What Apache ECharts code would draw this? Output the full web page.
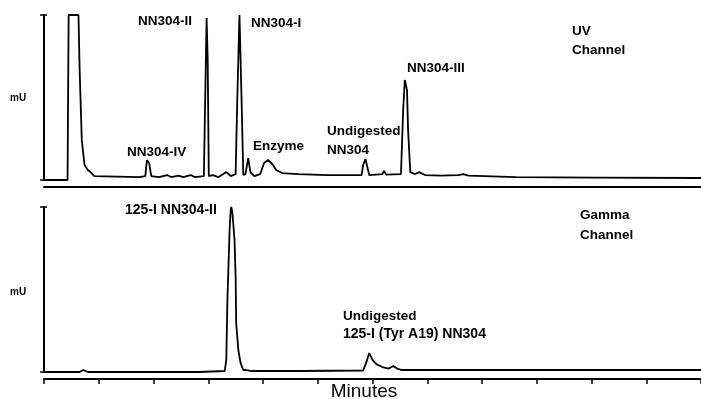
<!DOCTYPE html>
<html>
<head>
<meta charset="utf-8">
<script src="https://cdn.jsdelivr.net/npm/echarts@6/dist/echarts.min.js"></script>
<style>
html,body{margin:0;padding:0;background:#fff;}
#chart{width:701px;height:399px;}
</style>
</head>
<body>
<div id="chart"></div>
<script>
// UV channel trace (time in tick units, signal in % of full scale)
var uvTime = [0,0.43,0.45,0.63,0.65,0.69,0.74,0.80,0.85,0.92,1.74,1.85,1.88,1.92,1.96,2.10,2.25,2.32,2.46,2.54,2.68,2.75,2.92,2.94,2.97,2.99,3.01,3.08,3.19,3.33,3.41,3.50,3.53,3.57,3.61,3.64,3.68,3.73,3.77,3.84,3.95,4.02,4.09,4.17,4.24,4.35,4.64,5.18,5.80,5.83,5.87,5.91,5.94,6.18,6.21,6.25,6.52,6.56,6.59,6.63,6.65,6.69,6.78,6.85,6.96,7.26,7.57,7.66,7.75,8.62,10.07,12.0];
var uvSignal = [0,0,100,100,67.9,24.2,9.1,6.1,4.8,2.4,1.8,2.4,12.1,10.3,2.4,1.8,3.0,1.8,2.7,1.8,3.0,1.8,2.4,41.2,98.2,72.7,2.4,3.0,1.8,4.8,2.4,3.6,48.5,100,46.7,3.0,3.6,13.3,4.8,2.4,3.6,10.3,12.1,9.7,6.1,4.2,3.6,3.0,3.0,9.1,12.7,7.3,3.0,3.6,5.5,3.3,3.6,42.4,60.6,54.5,30.3,4.8,3.6,4.8,3.0,2.7,3.0,3.6,2.7,1.8,1.5,1.2];
// Gamma channel trace
var gammaTime = [0,0.65,0.72,0.80,2.83,3.30,3.33,3.35,3.39,3.41,3.42,3.44,3.48,3.50,3.51,3.55,3.59,3.64,3.70,3.73,3.79,4.64,5.83,5.89,5.94,6.00,6.07,6.18,6.30,6.38,6.45,6.54,7.36,12.0];
var gammaSignal = [0,0,1.2,0,0,0.6,7.3,43.6,86,98.2,100,97,80,57.6,29.7,13.3,5.5,1.2,1.2,1.8,0.6,0.6,0.9,6.1,11.5,7.3,4.8,3.0,2.1,3.6,2.1,1.2,1.2,1.2];

function zip(a,b){ return a.map(function(v,i){ return [v,b[i]]; }); }

var chart = echarts.init(document.getElementById('chart'), null, {renderer:'canvas'});
var black = '#000';
var FONT = 'Liberation Sans, Arial, sans-serif';

function xAx(g, ticks){
  return {
    type:'value', gridIndex:g, min:0, max:12, interval:1, offset:7,
    axisLine:{show:true, onZero:false, lineStyle:{color:black, width:2}},
    axisTick:{show:ticks, length:5, lineStyle:{color:black, width:1.5}},
    axisLabel:{show:false}, splitLine:{show:false}
  };
}
function yAx(g, inside){
  return {
    type:'value', gridIndex:g, min:0, max:100, interval:100, position:'left',
    axisLine:{show:!inside, lineStyle:{color:black, width:2}},
    axisTick:{show:true, inside:inside, length:inside?3:4, lineStyle:{color:black, width:1.5}},
    axisLabel:{show:false}, splitLine:{show:false}
  };
}
function txt(t, x, y, size, weight){
  return {type:'text', x:x, y:y, style:{text:t, fill:black, font:(weight||'bold')+' '+size+'px '+FONT, textVerticalAlign:'middle'}};
}

chart.setOption({
  animation:false,
  backgroundColor:'#fff',
  grid:[
    {left:44, top:15, width:662.4, height:165},
    {left:44, top:207, width:662.4, height:165}
  ],
  xAxis:[xAx(0,false), xAx(1,true)],
  yAxis:[yAx(0,false), yAx(0,true), yAx(1,false), yAx(1,true)],
  series:[
    {type:'line', xAxisIndex:0, yAxisIndex:0, data:zip(uvTime,uvSignal), showSymbol:false, lineStyle:{color:black, width:1.8}},
    {type:'line', xAxisIndex:1, yAxisIndex:2, data:zip(gammaTime,gammaSignal), showSymbol:false, lineStyle:{color:black, width:1.8}}
  ],
  graphic:[
    txt('mU', 10, 98, 10),
    txt('mU', 10, 292, 10),
    txt('NN304-II', 138, 21, 13.5),
    txt('NN304-IV', 127, 152, 13.5),
    txt('NN304-I', 251, 23, 13.5),
    txt('Enzyme', 253, 146, 13.5),
    txt('Undigested', 327, 131, 13.5),
    txt('NN304', 327, 150, 13.5),
    txt('NN304-III', 407, 68, 13.5),
    txt('UV', 572, 31, 13.5),
    txt('Channel', 572, 50, 13.5),
    txt('125-I NN304-II', 125, 210, 14),
    txt('Gamma', 580, 215, 13.5),
    txt('Channel', 580, 235, 13.5),
    txt('Undigested', 343, 316, 13.5),
    txt('125-I (Tyr A19) NN304', 343, 334, 14),
    {type:'text', x:364, y:392, style:{text:'Minutes', fill:black, font:'normal 19px '+FONT, textAlign:'center', textVerticalAlign:'middle'}}
  ]
});
</script>
</body>
</html>
